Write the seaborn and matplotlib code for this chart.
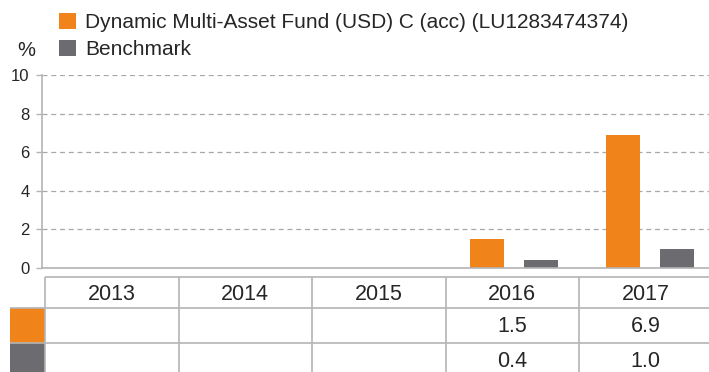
import numpy as np
import pandas as pd
import matplotlib
matplotlib.use("Agg")
import matplotlib.pyplot as plt
from matplotlib.patches import Patch
import seaborn as sns

# Calendar-year performance (%)
years = ["2013", "2014", "2015", "2016", "2017"]
fund_name = "Dynamic Multi-Asset Fund (USD) C (acc) (LU1283474374)"
bench_name = "Benchmark"
fund_values = [np.nan, np.nan, np.nan, 1.5, 6.9]
bench_values = [np.nan, np.nan, np.nan, 0.4, 1.0]
y_ticks = [0, 2, 4, 6, 8, 10]

ORANGE = "#F0831A"
GREY = "#6C6C70"
LINE = "#B4B4B4"
TEXT = "#262626"

sns.set_theme(style="white")
plt.rcParams["font.family"] = ["Liberation Sans", "DejaVu Sans"]

df = pd.DataFrame({
    "year": years * 2,
    "series": [fund_name] * len(years) + [bench_name] * len(years),
    "value": fund_values + bench_values,
})

W, H = 709, 372
fig = plt.figure(figsize=(W / 100, H / 100), dpi=100)

def px_axes(x0, y0, x1, y1):
    return fig.add_axes([x0 / W, 1 - y1 / H, (x1 - x0) / W, (y1 - y0) / H])

# --- bar chart ---
chart_mid, chart_step = 514.0, 136.0   # pixel centre of 4th category, category pitch

def chart_x(px):
    return (px - chart_mid) / chart_step + 3

ax = px_axes(42, 75, 709, 268)
sns.barplot(data=df, x="year", y="value", hue="series", order=years,
            hue_order=[fund_name, bench_name], palette=[ORANGE, GREY],
            width=0.794, gap=0.37, saturation=1, linewidth=0,
            ax=ax, legend=False)
ax.set_xlim(chart_x(42), chart_x(709))
ax.set_ylim(0, 10)
ax.set_yticks(y_ticks)
ax.set_yticklabels([str(t) for t in y_ticks], fontsize=12, color=TEXT)
ax.set_xticks([])
ax.set_xlabel("")
ax.set_ylabel("")
ax.yaxis.grid(True, linestyle=(0, (4, 3)), color="#A8A8A8", linewidth=0.9)
ax.set_axisbelow(True)
for s in ["top", "right"]:
    ax.spines[s].set_visible(False)
for s in ["left", "bottom"]:
    ax.spines[s].set_color(LINE)
    ax.spines[s].set_linewidth(1.2)
ax.tick_params(axis="y", left=True, length=4, width=1, color=LINE, pad=5)

handles = [Patch(facecolor=ORANGE, edgecolor="none"), Patch(facecolor=GREY, edgecolor="none")]
fig.legend(handles, [fund_name, bench_name], loc="upper left",
           bbox_to_anchor=(59 / W, 1 - 13 / H), frameon=False, fontsize=15,
           handlelength=0.8, handleheight=0.8, handletextpad=0.45,
           labelspacing=0.36, labelcolor=TEXT, borderaxespad=0, borderpad=0)
fig.text(17 / W, 1 - 50 / H, "%", fontsize=14.5, color=TEXT, va="center", ha="left")

# --- data table ---
col_left, col_w = 45.0, 133.5

def table_x(px):
    return (px - col_left) / col_w - 0.5

tx = px_axes(10, 277, 709, 372)
tx.set_xlim(table_x(10), table_x(709))
tx.set_ylim(372, 277)
tx.axis("off")
row_edges = [277, 308, 343, 378]
col_edges = [table_x(45) + i for i in range(len(years) + 1)]
sq_left = table_x(10)

tx.hlines(row_edges[0], col_edges[0], col_edges[-1], color=LINE, lw=1.2, clip_on=False)
for y in row_edges[1:3]:
    tx.hlines(y, sq_left, col_edges[-1], color=LINE, lw=1.2)
for x in col_edges:
    tx.vlines(x, row_edges[0], row_edges[-1], color=LINE, lw=1.2)

row_spans = [(row_edges[1], row_edges[2]), (row_edges[2], row_edges[3])]
for color, (r0, r1) in zip([ORANGE, GREY], row_spans):
    tx.fill_between([sq_left, col_edges[0]], r0, r1, color=color, lw=0)

for i, yr in enumerate(years):
    tx.text(i, (row_edges[0] + row_edges[1]) / 2 + 2, yr, ha="center", va="center",
            fontsize=15.5, color=TEXT)
    for vals, (r0, r1) in zip([fund_values, bench_values], row_spans):
        v = vals[i]
        if not np.isnan(v):
            tx.text(i, (r0 + r1) / 2 + 1, f"{v:.1f}", ha="center", va="center",
                    fontsize=15.5, color=TEXT)

fig.savefig("out.png", dpi=100)
